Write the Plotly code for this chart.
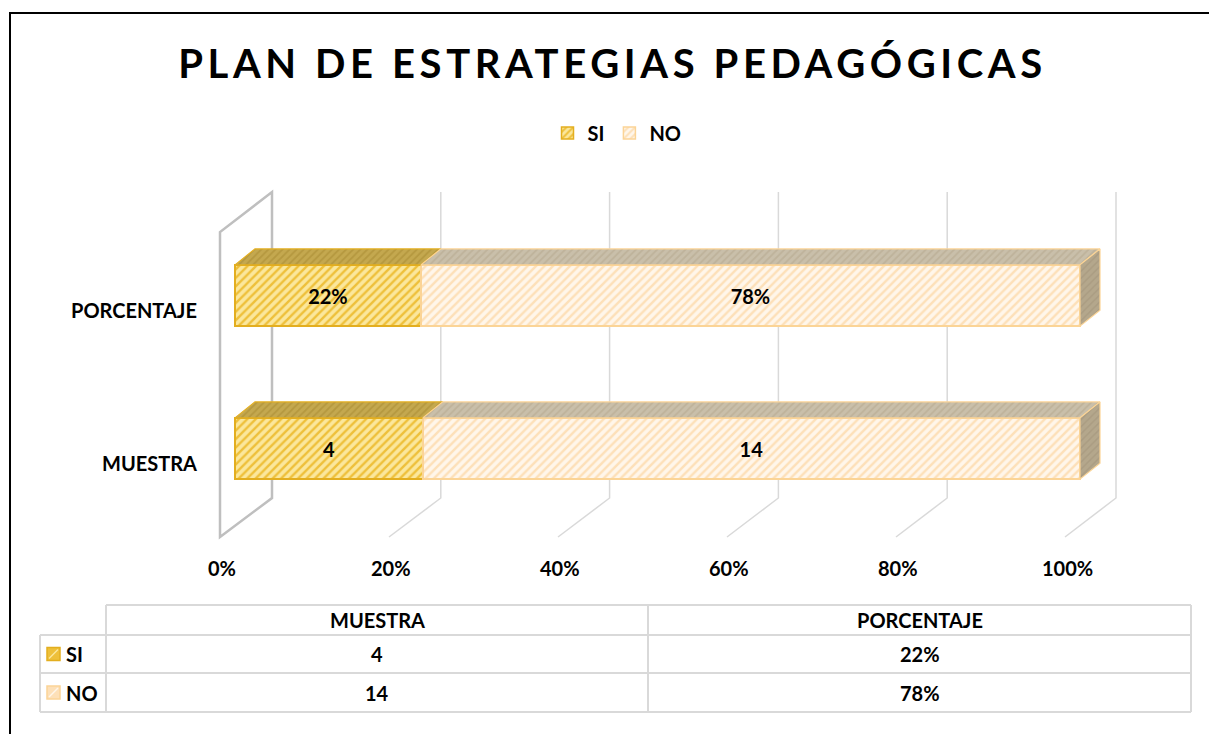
import plotly.graph_objects as go

# ---------------- data ----------------
categories = ["MUESTRA", "PORCENTAJE"]
series_names = ["SI", "NO"]
si_values = [4, 0.22]
no_values = [14, 0.78]
x_ticks = [0, 20, 40, 60, 80, 100]
title_text = "PLAN DE ESTRATEGIAS PEDAGÓGICAS"


def fmt(cat, v):
    return f"{round(v * 100)}%" if cat == "PORCENTAJE" else f"{v:g}"


# ---------------- geometry / style ----------------
W, H = 1209, 734
FONT = "Lato, 'Liberation Sans', sans-serif"
FS = 20


def px(x):
    return x / W


def py(y):
    return 1 - y / H


X0, XS = 235, 8.45      # pixel of 0 % on bar front face, px per percent
Y0, YS = 448.5, 153     # pixel of first category centre, px per category
XLO, XHI = -5, 110
YLO, YHI = -0.5, 1.5
BARW = 0.4
DX = 20 / XS
DY = 16 / YS

SI_STYLE = dict(bg="#fbe79c", fg="#eec03a", line="#e3ae1f",
                top_bg="#c4a84f", top_fg="#a58830")
NO_STYLE = dict(bg="#fff6ea", fg="#fde0b8", line="#fbd496",
                top_bg="#c9bfaa", top_fg="#b3a68b",
                side_bg="#b4a78c", side_fg="#a09278")

totals = [s + n for s, n in zip(si_values, no_values)]
si_pct = [100 * s / t for s, t in zip(si_values, totals)]
no_pct = [100 * n / t for n, t in zip(no_values, totals)]
ypos = list(range(len(categories)))

fig = go.Figure()

for name, pct, vals, st in [("SI", si_pct, si_values, SI_STYLE),
                            ("NO", no_pct, no_values, NO_STYLE)]:
    fig.add_trace(go.Bar(
        name=name, y=ypos, x=pct, orientation="h", width=BARW,
        text=[fmt(c, v) for c, v in zip(categories, vals)],
        textposition="inside", insidetextanchor="middle", textangle=0,
        constraintext="none",
        textfont=dict(family=FONT, size=FS, color="black", weight="bold"),
        marker=dict(color=st["bg"], line=dict(color=st["line"], width=1.5),
                    pattern=dict(shape="/", fgcolor=st["fg"], bgcolor=st["bg"],
                                 size=6, solidity=0.4, fillmode="replace")),
        hoverinfo="skip",
    ))

# 3-D faces (top + right side), derived from the stacked values
for i, y in enumerate(ypos):
    top = y + BARW / 2
    bot = y - BARW / 2
    segs = [(0, si_pct[i], SI_STYLE), (si_pct[i], si_pct[i] + no_pct[i], NO_STYLE)]
    for a, b, st in segs:
        fig.add_trace(go.Scatter(
            x=[a, b, b + DX, a + DX, a], y=[top, top, top + DY, top + DY, top],
            mode="lines", fill="toself", fillcolor=st["top_bg"],
            fillpattern=dict(shape="/", bgcolor=st["top_bg"], fgcolor=st["top_fg"],
                             size=5, solidity=0.35),
            line=dict(color=st["line"], width=1.2), showlegend=False,
            hoverinfo="skip"))
    end = si_pct[i] + no_pct[i]
    fig.add_trace(go.Scatter(
        x=[end, end, end + DX, end + DX, end],
        y=[bot, top, top + DY, bot + DY, bot],
        mode="lines", fill="toself", fillcolor=NO_STYLE["side_bg"],
        fillpattern=dict(shape="/", bgcolor=NO_STYLE["side_bg"],
                         fgcolor=NO_STYLE["side_fg"], size=5, solidity=0.3),
        line=dict(color=NO_STYLE["line"], width=1.2), showlegend=False,
        hoverinfo="skip"))

shapes = []
# walls / gridlines
BX0, BXS = 272, 8.44
FX0, FXS = 220, 8.45
BT, BB, FB, FT = 192, 498, 537, 232
for v in x_ticks:
    bx = BX0 + v * BXS
    fx = FX0 + v * FXS
    if v == 0:
        path = (f"M {px(bx)},{py(BT)} L {px(bx)},{py(BB)} L {px(fx)},{py(FB)} "
                f"L {px(fx)},{py(FT)} Z")
        shapes.append(dict(type="path", xref="paper", yref="paper", path=path,
                           line=dict(color="#bfbfbf", width=2.5), layer="below"))
    else:
        path = f"M {px(bx)},{py(BT)} L {px(bx)},{py(BB)} L {px(fx)},{py(FB)}"
        shapes.append(dict(type="path", xref="paper", yref="paper", path=path,
                           line=dict(color="#d9d9d9", width=1.5), layer="below"))

# outer border
shapes.append(dict(type="rect", xref="paper", yref="paper",
                   x0=px(10), y0=py(13), x1=px(1225), y1=py(750),
                   line=dict(color="black", width=2)))

# data table
TCOL = [106, 648, 1191]
TLEFT = 40
TROW = [605, 635, 673, 712]
TC = "#d9d9d9"


def hline(x0, x1, y):
    shapes.append(dict(type="line", xref="paper", yref="paper", x0=px(x0), x1=px(x1),
                       y0=py(y), y1=py(y), line=dict(color=TC, width=2)))


def vline(x, y0, y1):
    shapes.append(dict(type="line", xref="paper", yref="paper", x0=px(x), x1=px(x),
                       y0=py(y0), y1=py(y1), line=dict(color=TC, width=2)))


hline(TCOL[0], TCOL[-1], TROW[0])
for yy in TROW[1:]:
    hline(TLEFT, TCOL[-1], yy)
vline(TLEFT, TROW[1], TROW[-1])
for xx in TCOL:
    vline(xx, TROW[0], TROW[-1])

annotations = []
AF = dict(family=FONT, size=FS, color="black", weight="bold")

# category labels
for i, c in enumerate(categories):
    annotations.append(dict(text=c, xref="paper", yref="y", x=px(199), y=ypos[i],
                            yshift=-14, xanchor="right", yanchor="middle",
                            showarrow=False, font=AF))
# x tick labels on the floor front edge
for v in x_ticks:
    annotations.append(dict(text=f"{v}%", xref="paper", yref="paper",
                            x=px(FX0 + v * FXS + 2), y=py(568), xanchor="center",
                            yanchor="middle", showarrow=False, font=AF))

# table header
for j, c in enumerate(categories):
    cx = (TCOL[j] + TCOL[j + 1]) / 2
    annotations.append(dict(text=c, xref="paper", yref="paper", x=px(cx),
                            y=py((TROW[0] + TROW[1]) / 2), xanchor="center",
                            yanchor="middle", showarrow=False, font=AF))
# table rows
for r, (name, vals, st) in enumerate([("SI", si_values, SI_STYLE),
                                      ("NO", no_values, NO_STYLE)]):
    cy = (TROW[r + 1] + TROW[r + 2]) / 2
    shapes.append(dict(type="rect", xref="paper", yref="paper",
                       x0=px(47), x1=px(60), y0=py(cy - 6.5), y1=py(cy + 6.5),
                       fillcolor=st["fg"], line=dict(color=st["line"], width=1.5)))
    shapes.append(dict(type="line", xref="paper", yref="paper",
                       x0=px(49), x1=px(58), y0=py(cy + 4.5), y1=py(cy - 4.5),
                       line=dict(color=st["bg"], width=1.5)))
    annotations.append(dict(text=name, xref="paper", yref="paper", x=px(64),
                            y=py(cy), xanchor="left", yanchor="middle",
                            showarrow=False, font=AF))
    for j, c in enumerate(categories):
        cx = (TCOL[j] + TCOL[j + 1]) / 2
        annotations.append(dict(text=fmt(c, vals[j]), xref="paper", yref="paper",
                                x=px(cx), y=py(cy), xanchor="center",
                                yanchor="middle", showarrow=False, font=AF))

fig.update_layout(
    width=W, height=H, margin=dict(l=0, r=0, t=0, b=0),
    paper_bgcolor="white", plot_bgcolor="rgba(0,0,0,0)",
    font=dict(family=FONT, color="black"),
    barmode="stack",
    title=dict(text=f'<span style="letter-spacing:4.6px">{title_text}</span>',
               x=px(612.5), xanchor="center", y=py(64), yanchor="middle",
               yref="container",
               font=dict(family=FONT, size=40, color="black", weight="bold")),
    xaxis=dict(domain=[px(X0 + XLO * XS), px(X0 + XHI * XS)], range=[XLO, XHI],
               showgrid=False, zeroline=False, showticklabels=False, showline=False),
    yaxis=dict(domain=[py(Y0 - YLO * YS), py(Y0 - YHI * YS)], range=[YLO, YHI],
               showgrid=False, zeroline=False, showticklabels=False, showline=False),
    legend=dict(orientation="h", x=px(617), xanchor="center", y=py(133),
                yanchor="middle", font=dict(family=FONT, size=FS, weight="bold"),
                itemwidth=30, traceorder="normal", bgcolor="rgba(0,0,0,0)"),
    shapes=shapes, annotations=annotations,
)

fig.write_html("out.html", config={"displayModeBar": False},
               post_script="document.body.style.margin='0';"
                           "document.body.style.overflow='hidden';")
